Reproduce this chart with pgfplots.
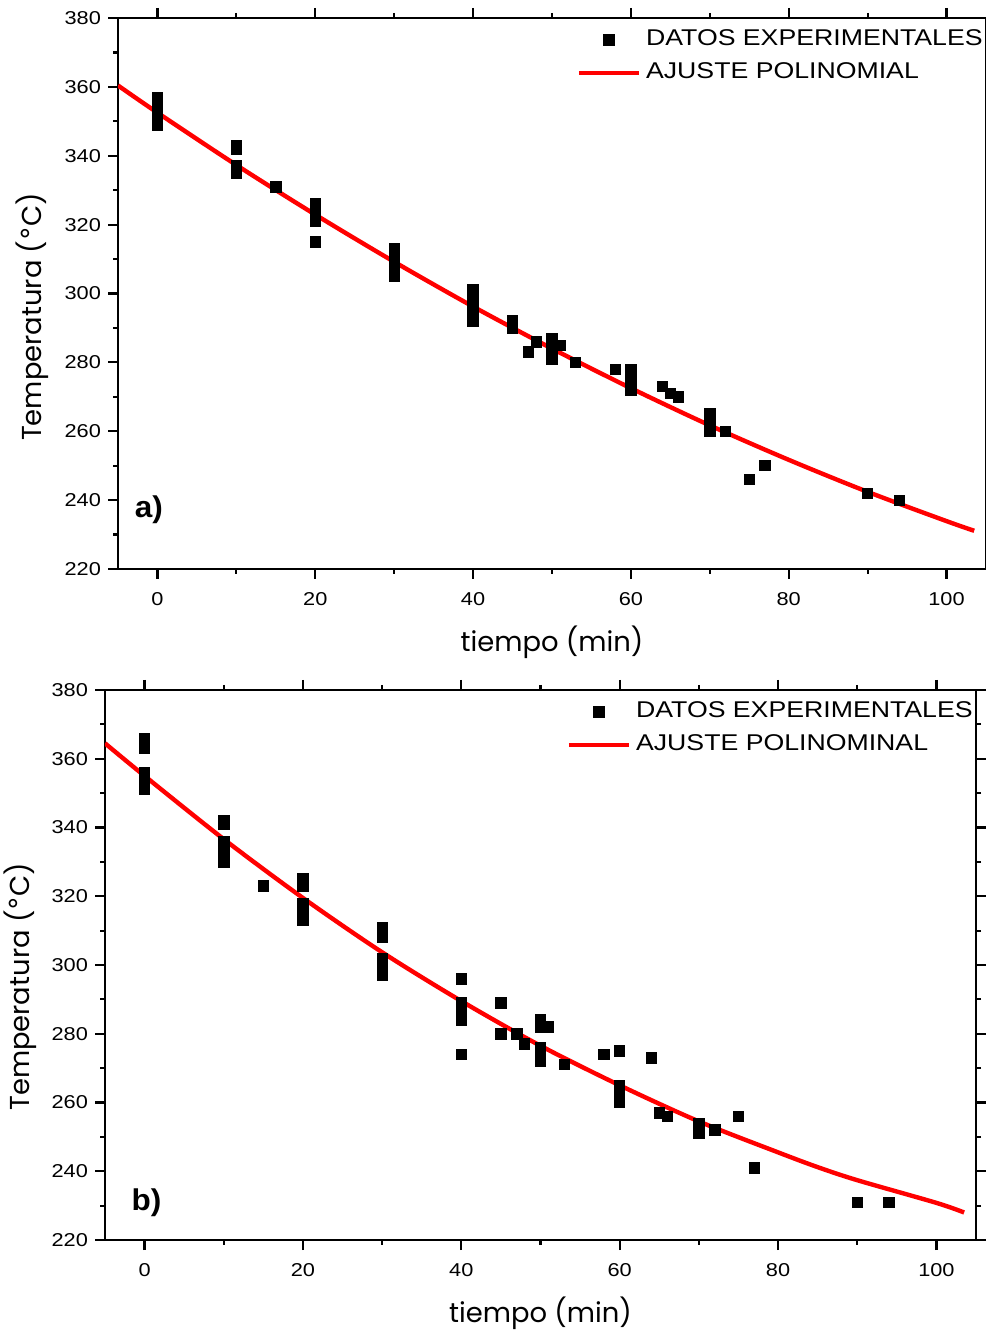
\documentclass[border=0pt]{standalone}
\usepackage{pgfplots}
\pgfplotsset{compat=1.18}
\usepackage{fontspec}
\setmainfont{Liberation Sans}[FakeStretch=1.17]
\newfontfamily\labelfont{Poppins}
\newfontfamily\degfont{DejaVu Sans}
\newfontfamily\panelfont{Liberation Sans}[FakeStretch=1.05]

\pgfplotsset{
  panel/.style={
    scale only axis,
    width=434pt, height=275.5pt,
    xmin=-5, xmax=105, ymin=220, ymax=380,
    xtick={0,20,...,100}, ytick={220,240,...,380},
    minor xtick={10,30,...,90}, minor ytick={230,250,...,370},
    tick align=outside,
    major tick length=5pt, minor tick length=2.5pt,
    axis line style={line width=1.2pt},
    every tick/.append style={line width=1.1pt, black},
    every minor tick/.append style={line width=1.1pt, black},
    tick label style={font=\fontsize{9.3}{11}\selectfont},
    xticklabel style={yshift=-3pt},
    /pgf/number format/assume math mode=true,
    xlabel={tiempo (min)}, ylabel={Temperatura ({\degfont °}C)},
    label style={font=\labelfont\fontsize{13.7}{16}\selectfont},
    xlabel style={at={(axis description cs:0.5,-0.1325)}, anchor=center},
    legend cell align=left,
    legend style={at={(rel axis cs:1,1)}, anchor=north east, xshift=1.5pt, yshift=-0.5pt,
      draw=none, fill=none, font=\fontsize{11.4}{13}\selectfont,
      row sep=0pt, nodes={inner sep=0pt, text height=11pt, text depth=5.5pt},
      /tikz/every odd column/.style={column sep=2.5pt}},
  },
  datos/.style={only marks, mark=square*, mark size=2.6pt, black,
    legend image code/.code={\draw[##1,mark repeat=2,mark phase=2] plot coordinates {(0pt,0pt) (15pt,0pt) (30pt,0pt)};}},
  ajuste/.style={red, line width=2.2pt, mark=none, smooth,
    legend image code/.code={\draw[##1] (0pt,0pt) -- (30pt,0pt);}},
}

\begin{document}
\begin{tikzpicture}
\useasboundingbox (0,0) rectangle (493pt,665pt);

% a) panel
\begin{axis}[panel, at={(59pt,656pt)}, anchor=north west,
    ylabel style={at={(axis description cs:-0.099,0.457)}, anchor=center}]
  \addplot[datos] coordinates {
    (0,357) (0,355) (0,353) (0,351) (0,349)
    (10,343) (10,342) (10,337) (10,335)
    (15,331)
    (20,326) (20,324) (20,322) (20,321) (20,315)
    (30,313) (30,311) (30,309) (30,307) (30,305)
    (40,301) (40,299) (40,297) (40,295) (40,293) (40,292)
    (45,292) (45,290) (47,283) (48,286)
    (50,287) (50,285) (50,283) (50,281) (51,285) (53,280)
    (58,278) (60,278) (60,276) (60,274) (60,272)
    (64,273) (65,271) (66,270)
    (70,265) (70,263) (70,261) (70,260) (72,260)
    (75,246) (77,250) (90,242) (94,240)
  };
  \addlegendentry{DATOS EXPERIMENTALES}
  \addplot[ajuste] coordinates {
    (-5,360.4) (0,352.5) (10,337.3) (20,322.9) (30,309.2) (40,296.2)
    (50,284.0) (60,272.5) (70,261.7) (80,251.7) (90,242.4) (100,233.9) (103.5,231.1)
  };
  \addlegendentry{AJUSTE POLINOMIAL}
  \node[font=\panelfont\bfseries\fontsize{15}{18}\selectfont] at (axis cs:-1.1,237.2) {a)};
\end{axis}

% b) panel
\begin{axis}[panel, width=435.5pt, height=275pt, at={(52.5pt,320pt)}, anchor=north west,
    ylabel style={at={(axis description cs:-0.0976,0.46)}, anchor=center}]
  \addplot[datos] coordinates {
    (0,366) (0,364) (0,363) (0,356) (0,354) (0,353) (0,351)
    (10,342) (10,341) (10,336) (10,334) (10,332) (10,330)
    (15,323)
    (20,325) (20,323) (20,318) (20,316) (20,314) (20,313)
    (30,311) (30,308) (30,302) (30,300) (30,298) (30,297)
    (40,296) (40,289) (40,287) (40,285) (40,284) (40,274)
    (45,289) (45,280) (47,280) (48,277)
    (50,284) (50,282) (50,276) (50,274) (50,272) (51,282) (53,271)
    (58,274) (60,275) (60,265) (60,263) (60,261) (60,260)
    (64,273) (65,257) (66,256)
    (70,254) (70,252) (70,251) (72,252)
    (75,256) (77,241) (90,231) (94,231)
  };
  \addlegendentry{DATOS EXPERIMENTALES}
  \addplot[ajuste] coordinates {
    (-5,364.5) (0,355) (10,336.6) (20,319.5) (30,303.7) (40,289.5)
    (50,276.5) (60,265) (70,254.5) (80,245.5) (85,241.2) (90,237.4) (100,230.8) (103.5,228)
  };
  \addlegendentry{AJUSTE POLINOMINAL}
  \node[font=\panelfont\bfseries\fontsize{15}{18}\selectfont] at (axis cs:0.25,230.8) {b)};
\end{axis}
\end{tikzpicture}
\end{document}
